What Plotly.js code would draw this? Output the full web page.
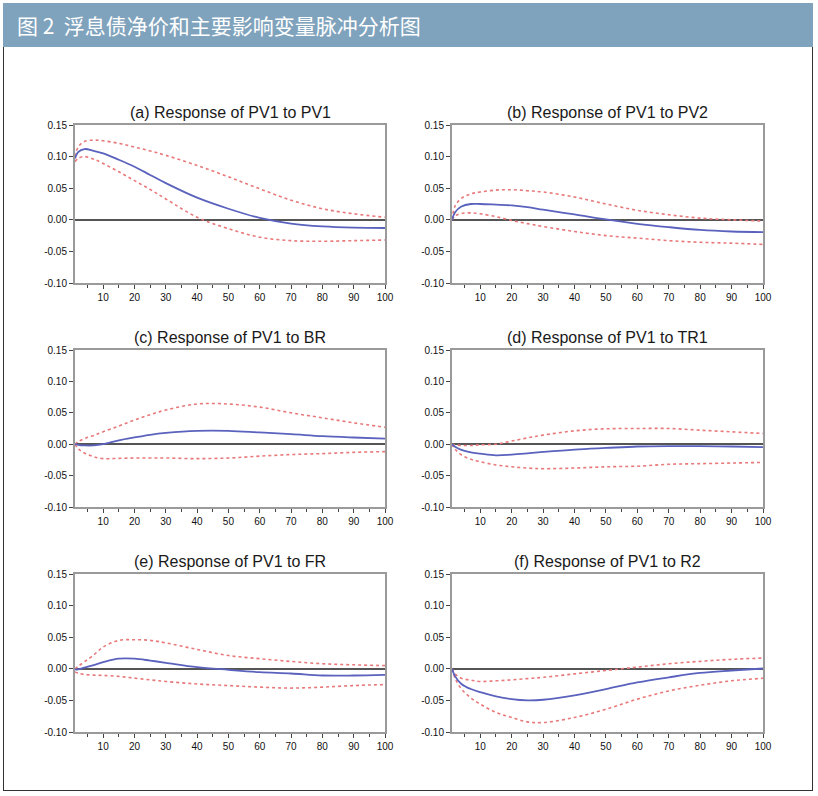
<!DOCTYPE html>
<html>
<head>
<meta charset="utf-8">
<script src="https://cdn.plot.ly/plotly-3.0.1.min.js"></script>
<style>
  html, body { margin: 0; padding: 0; background: #fff; }
  #page { position: relative; width: 818px; height: 796px; overflow: hidden; }
  #header {
    position: absolute; left: 3px; top: 3px; width: 810px; height: 44px;
    background: #7fa3bd; color: #fff;
    font-family: "Noto Sans CJK SC", sans-serif; font-size: 21px;
    line-height: 44px; padding-left: 14px; box-sizing: border-box;
  }
  #frame {
    position: absolute; left: 3px; top: 47px; width: 810px; height: 744px;
    border: 1px solid #333; border-top: none; box-sizing: border-box;
  }
  #chart { position: absolute; left: 0; top: 0; width: 818px; height: 796px; }
</style>
</head>
<body>
<div id="page">
  <div id="header">图 2&nbsp; 浮息债净价和主要影响变量脉冲分析图</div>
  <div id="frame"></div>
  <div id="chart"></div>
</div>
<script>
// periods
const periods = [1, 2, 4, 7, 10, 15, 20, 25, 30, 40, 50, 60, 70, 80, 90, 100];

const titles = [
    "(a) Response of PV1 to PV1",
    "(b) Response of PV1 to PV2",
    "(c) Response of PV1 to BR",
    "(d) Response of PV1 to TR1",
    "(e) Response of PV1 to FR",
    "(f) Response of PV1 to R2"
];

// (a) PV1
const respA  = [0.097, 0.107, 0.112, 0.109, 0.105, 0.095, 0.084, 0.071, 0.058, 0.035, 0.0175, 0.003, -0.006, -0.0105, -0.0125, -0.013];
const upperA = [0.100, 0.115, 0.124, 0.126, 0.125, 0.121, 0.115, 0.109, 0.102, 0.086, 0.068, 0.049, 0.031, 0.0175, 0.0095, 0.004];
const lowerA = [0.092, 0.097, 0.100, 0.096, 0.089, 0.076, 0.062, 0.048, 0.033, 0.004, -0.014, -0.0275, -0.033, -0.034, -0.033, -0.032];

// (b) PV2
const respB  = [0, 0.012, 0.021, 0.025, 0.025, 0.024, 0.0228, 0.020, 0.016, 0.0085, 0.0005, -0.0063, -0.0116, -0.016, -0.0185, -0.0196];
const upperB = [0, 0.022, 0.034, 0.041, 0.044, 0.047, 0.0476, 0.046, 0.044, 0.036, 0.025, 0.015, 0.008, 0.0026, 0.000, -0.002];
const lowerB = [0, 0.006, 0.010, 0.011, 0.0095, 0.005, -0.001, -0.006, -0.0106, -0.0185, -0.025, -0.029, -0.033, -0.0355, -0.037, -0.039];

// (c) BR
const respC  = [0, -0.001, -0.002, -0.002, 0.000, 0.006, 0.0107, 0.015, 0.018, 0.0213, 0.0213, 0.0187, 0.016, 0.0128, 0.0107, 0.009];
const upperC = [0, 0.004, 0.009, 0.014, 0.0198, 0.029, 0.0385, 0.047, 0.0545, 0.064, 0.064, 0.059, 0.050, 0.042, 0.034, 0.027];
const lowerC = [0, -0.007, -0.014, -0.020, -0.023, -0.0225, -0.022, -0.022, -0.022, -0.023, -0.022, -0.019, -0.0165, -0.015, -0.013, -0.0118];

// (d) TR1
const respD  = [0, -0.004, -0.009, -0.013, -0.015, -0.0177, -0.0165, -0.0145, -0.0123, -0.0085, -0.006, -0.0037, -0.003, -0.003, -0.0037, -0.0048];
const upperD = [0, -0.001, -0.002, -0.002, -0.001, 0.000, 0.005, 0.010, 0.0144, 0.0213, 0.0245, 0.025, 0.025, 0.0223, 0.0197, 0.017];
const lowerD = [0, -0.008, -0.017, -0.024, -0.028, -0.033, -0.036, -0.038, -0.039, -0.038, -0.036, -0.035, -0.032, -0.031, -0.030, -0.029];

// (e) FR
const respE  = [-0.001, -0.001, 0.002, 0.006, 0.0105, 0.016, 0.016, 0.013, 0.0095, 0.0026, -0.0016, -0.0053, -0.0074, -0.0106, -0.0106, -0.0095];
const upperE = [0, 0.004, 0.011, 0.022, 0.0345, 0.045, 0.046, 0.045, 0.041, 0.0307, 0.021, 0.016, 0.0116, 0.008, 0.0063, 0.005];
const lowerE = [-0.005, -0.007, -0.009, -0.010, -0.0105, -0.012, -0.0148, -0.0175, -0.020, -0.024, -0.0265, -0.029, -0.0305, -0.029, -0.0265, -0.025];

// (f) R2
const respF  = [0, -0.012, -0.024, -0.032, -0.037, -0.0435, -0.048, -0.050, -0.049, -0.042, -0.032, -0.0215, -0.0135, -0.0065, -0.0027, 0.0005];
const upperF = [0, -0.008, -0.015, -0.018, -0.020, -0.019, -0.0175, -0.0155, -0.0135, -0.008, -0.0027, 0.0027, 0.008, 0.0118, 0.015, 0.017];
const lowerF = [0, -0.015, -0.032, -0.046, -0.056, -0.069, -0.077, -0.084, -0.085, -0.077, -0.064, -0.048, -0.035, -0.026, -0.019, -0.015];

const panels = [
    {resp: respA, upper: upperA, lower: lowerA},
    {resp: respB, upper: upperB, lower: lowerB},
    {resp: respC, upper: upperC, lower: lowerC},
    {resp: respD, upper: upperD, lower: lowerD},
    {resp: respE, upper: upperE, lower: lowerE},
    {resp: respF, upper: upperF, lower: lowerF}
];

const yTicks = [-0.10, -0.05, 0.00, 0.05, 0.10, 0.15];
const yTickText = ["-0.10", "-0.05", "0.00", "0.05", "0.10", "0.15"];
const xTicks = [10, 20, 30, 40, 50, 60, 70, 80, 90, 100];

const W = 818, H = 796;
// plot boxes in pixels: left, right, top, bottom
const cols = [[75, 385], [452, 763]];
const rows = [[125, 283], [350, 507], [574, 732]];

const narrow = "Liberation Sans Narrow, Arial Narrow, Liberation Sans, sans-serif";
const traces = [];
const layout = {
    width: W, height: H,
    margin: {l: 0, r: 0, t: 0, b: 0},
    paper_bgcolor: "rgba(0,0,0,0)",
    plot_bgcolor: "#fff",
    showlegend: false,
    annotations: []
};

panels.forEach((p, i) => {
    const c = cols[i % 2], r = rows[Math.floor(i / 2)];
    const n = i === 0 ? "" : String(i + 1);
    const xa = "x" + n, ya = "y" + n;

    const base = {x: periods, xaxis: xa, yaxis: ya, type: "scatter", mode: "lines", hoverinfo: "skip"};
    traces.push(Object.assign({}, base, {y: p.upper, line: {color: "#e8787a", width: 1.6, dash: "dot", shape: "spline"}}));
    traces.push(Object.assign({}, base, {y: p.lower, line: {color: "#e8787a", width: 1.6, dash: "dot", shape: "spline"}}));
    traces.push(Object.assign({}, base, {y: p.resp, line: {color: "#5a62bd", width: 1.8, shape: "spline"}}));

    layout["xaxis" + n] = {
        domain: [c[0] / W, c[1] / W],
        anchor: ya,
        range: [1, 100],
        tickvals: xTicks,
        ticks: "outside", ticklen: 4, tickcolor: "#444",
        minor: {tickvals: [5, 15, 25, 35, 45, 55, 65, 75, 85, 95], ticks: "outside", ticklen: 3, tickcolor: "#444"},
        tickfont: {family: narrow, size: 10, color: "#111"},
        showgrid: false, zeroline: false,
        showline: true, linecolor: "#9a9a9a", linewidth: 2, mirror: true
    };
    layout["yaxis" + n] = {
        domain: [1 - r[1] / H, 1 - r[0] / H],
        anchor: xa,
        range: [-0.10, 0.15],
        tickvals: yTicks, ticktext: yTickText,
        ticks: "outside", ticklen: 4, tickcolor: "#444",
        tickfont: {family: narrow, size: 10, color: "#111"},
        showgrid: false,
        zeroline: true, zerolinecolor: "#555", zerolinewidth: 1.5,
        showline: true, linecolor: "#9a9a9a", linewidth: 2, mirror: true
    };
    layout.annotations.push({
        text: titles[i],
        xref: "paper", yref: "paper",
        x: (c[0] + c[1]) / 2 / W, y: 1 - (r[0] - 2) / H,
        xanchor: "center", yanchor: "bottom", showarrow: false,
        font: {family: "Liberation Sans, Arial, sans-serif", size: 16, color: "#1a1a1a"}
    });
});

Plotly.newPlot("chart", traces, layout, {staticPlot: true});
</script>
</body>
</html>
